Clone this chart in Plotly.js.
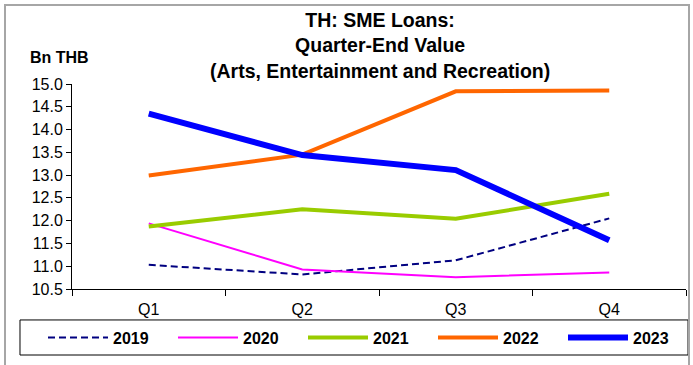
<!DOCTYPE html>
<html>
<head>
<meta charset="utf-8">
<script src="https://cdn.plot.ly/plotly-3.0.1.min.js"></script>
<style>
  html, body { margin: 0; padding: 0; background: #fff; overflow: hidden; }
  #frame { position: absolute; left: 4px; top: 4px; width: 686px; height: 380px; border: 2px solid #a6a6a6; box-sizing: border-box; pointer-events: none; }
  #chart { width: 693px; height: 365px; }
</style>
</head>
<body>
<div id="chart"></div>
<div id="frame"></div>
<script>
const quarters = ["Q1", "Q2", "Q3", "Q4"];
const years = ["2019", "2020", "2021", "2022", "2023"];
const v2019 = [11.03, 10.82, 11.13, 12.05];
const v2020 = [11.94, 10.93, 10.76, 10.86];
const v2021 = [11.87, 12.25, 12.04, 12.59];
const v2022 = [12.99, 13.45, 14.84, 14.86];
const v2023 = [14.35, 13.44, 13.11, 11.57];
const yTicks = [10.5, 11.0, 11.5, 12.0, 12.5, 13.0, 13.5, 14.0, 14.5, 15.0];
const titleText = "TH: SME Loans:<br>Quarter-End Value<br>(Arts, Entertainment and Recreation)";
const unitText = "Bn THB";

const series = [v2019, v2020, v2021, v2022, v2023];
const styles = [
  {color: "#000080", width: 2, dash: "7px,4px"},
  {color: "#FF00FF", width: 2, dash: "solid"},
  {color: "#99CC00", width: 4, dash: "solid"},
  {color: "#FF6600", width: 4, dash: "solid"},
  {color: "#0000FF", width: 6, dash: "solid"}
];

const traces = series.map((vals, i) => ({
  x: quarters, y: vals, name: years[i], type: "scatter", mode: "lines",
  line: styles[i]
}));

const font = "Arial, 'Liberation Sans', sans-serif";

const layout = {
  width: 693, height: 365,
  margin: {l: 72, r: 7, t: 84, b: 76},
  paper_bgcolor: "#fff", plot_bgcolor: "#fff",
  font: {family: font, color: "#000", size: 14},
  xaxis: {
    type: "category", range: [-0.5, 3.5],
    showline: true, linecolor: "#000", linewidth: 1,
    ticks: "outside", tickson: "boundaries", ticklen: 6, tickcolor: "#000",
    showgrid: false, zeroline: false, ticklabelstandoff: 6,
    tickfont: {family: font, size: 16, color: "#000"}
  },
  yaxis: {
    range: [10.5, 15.0], tickvals: yTicks, tickformat: ".1f",
    showline: true, linecolor: "#000", linewidth: 1,
    ticks: "outside", ticklen: 5, tickcolor: "#000",
    showgrid: false, zeroline: false,
    tickfont: {family: font, size: 16, color: "#000"}
  },
  showlegend: true,
  legend: {
    orientation: "h", x: -0.026, xanchor: "left", y: -0.2366, yanchor: "middle",
    borderwidth: 0, bgcolor: "rgba(0,0,0,0)",
    font: {family: font, size: 16, weight: "bold", color: "#000"},
    entrywidth: 55, entrywidthmode: "pixels", itemwidth: 60,
    traceorder: "normal"
  },
  shapes: [{
    type: "rect", xref: "paper", yref: "paper",
    x0: -0.0847, x1: 1.0033, y0: -0.322, y1: -0.151,
    line: {color: "#000", width: 1}, fillcolor: "rgba(0,0,0,0)"
  }],
  annotations: [{
    text: "<b>" + titleText + "</b>", xref: "paper", yref: "paper",
    x: 0.502, y: 1.19, xanchor: "center", yanchor: "middle",
    showarrow: false, font: {family: font, size: 19.5, color: "#000"}
  }, {
    text: "<b>" + unitText + "</b>", xref: "paper", yref: "paper",
    x: -0.021, y: 1.127, xanchor: "center", yanchor: "middle",
    showarrow: false, font: {family: font, size: 16, color: "#000"}
  }]
};

Plotly.newPlot("chart", traces, layout, {displayModeBar: false, staticPlot: true});
</script>
</body>
</html>
